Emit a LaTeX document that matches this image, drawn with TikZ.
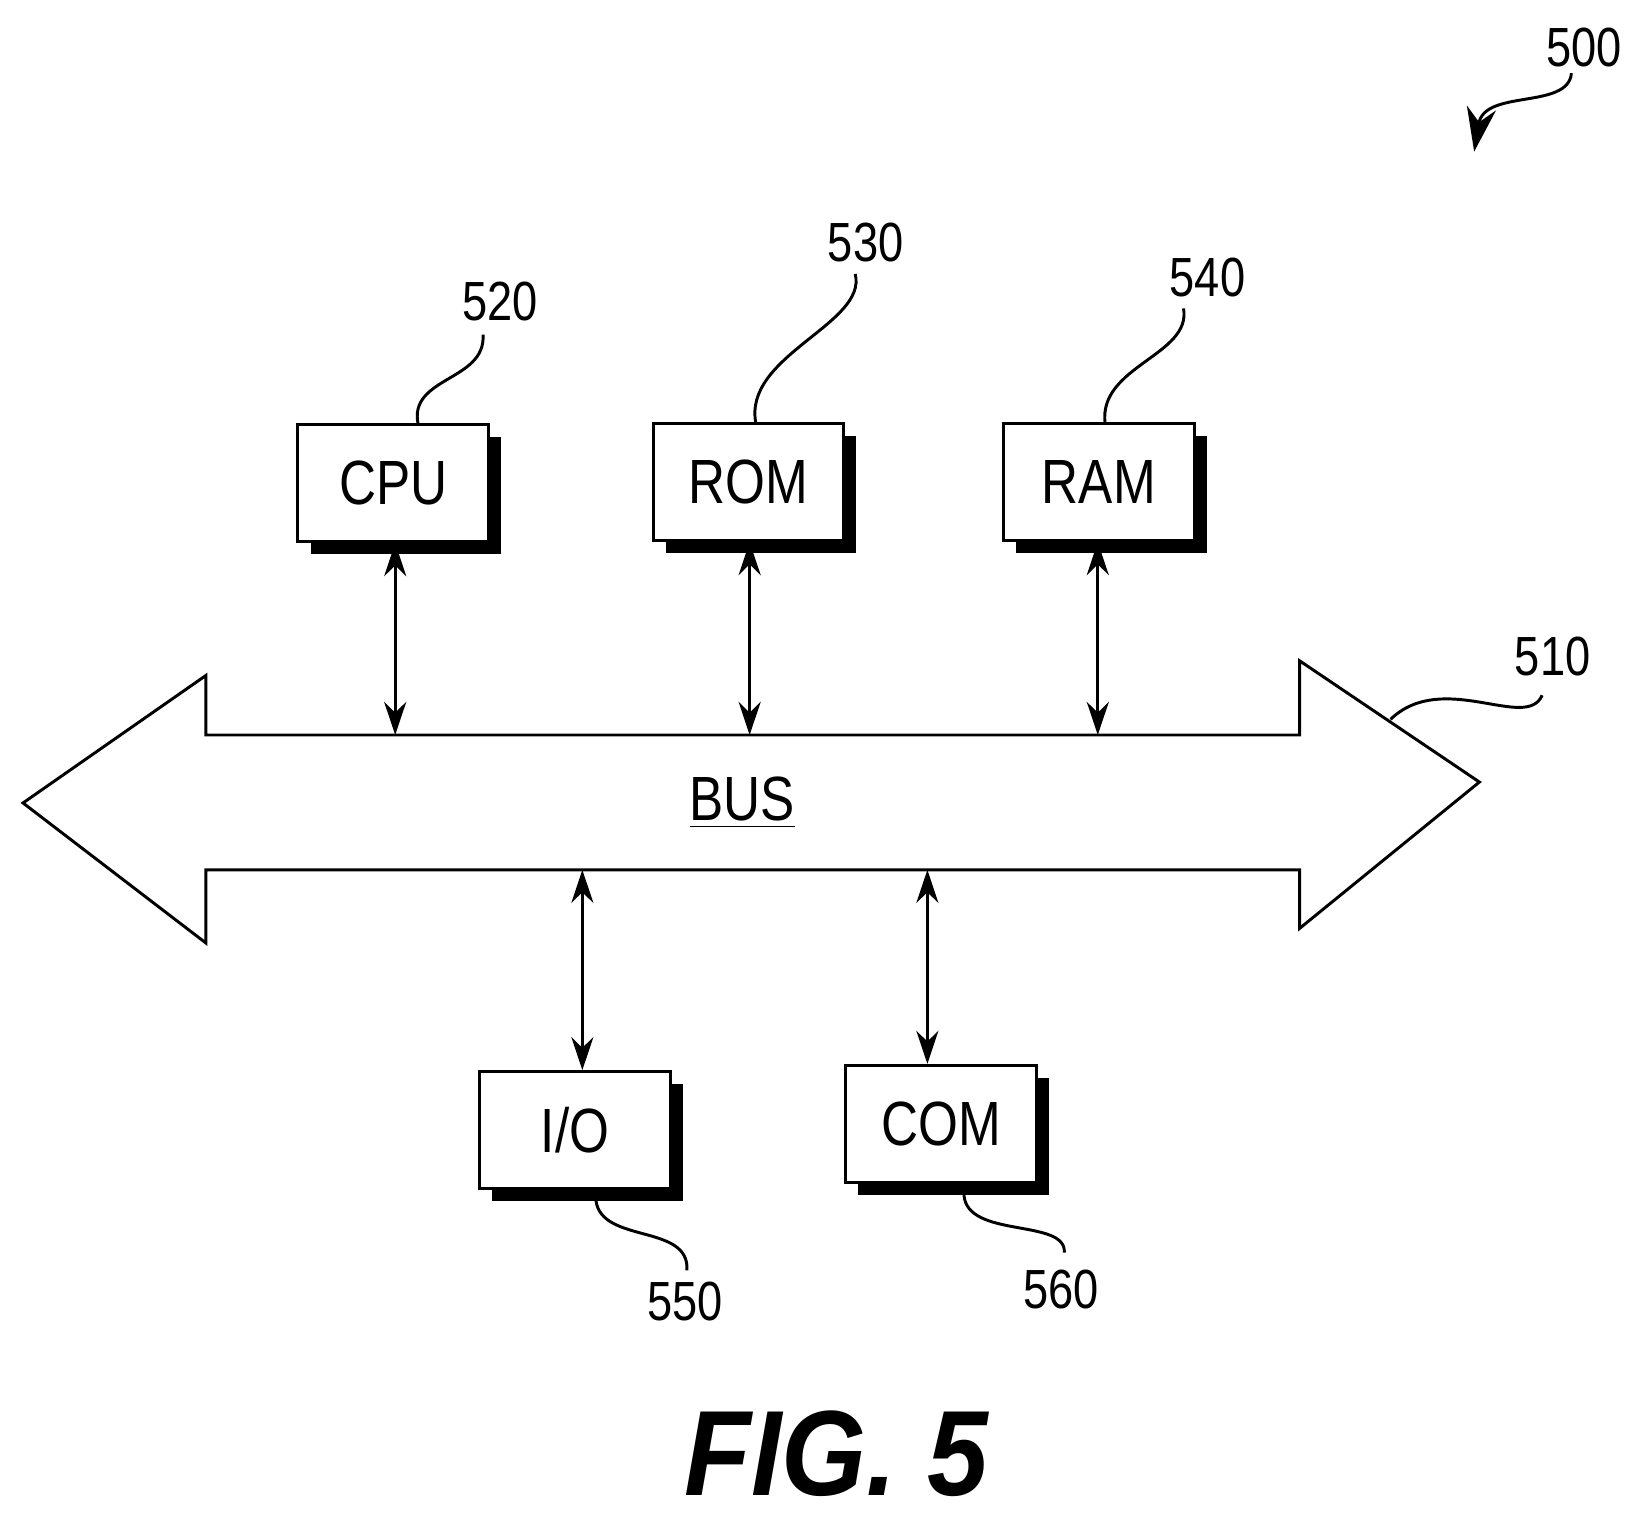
\documentclass[tikz,border=0pt]{standalone}
\usepackage{fontspec}
\setmainfont[FakeStretch=0.82]{Liberation Sans}
\newfontfamily\figfont[FakeStretch=0.9]{Liberation Sans}
\usetikzlibrary{arrows.meta}
\begin{document}
\begin{tikzpicture}[x=0.01cm,y=-0.01cm,
	unit/.style={draw,thick,fill=white,minimum width=1.82cm,minimum height=1.12cm,inner sep=0pt,font=\fontsize{17}{19}\selectfont},
	shadow/.style={fill=black},
	link/.style={{Stealth[length=9pt,width=6pt]}-{Stealth[length=9pt,width=6pt]},thick},
	refnum/.style={font=\fontsize{15}{17}\selectfont},
	leader/.style={thick}]
	\useasboundingbox (0,0) rectangle (1560,1457);

	% bus
	\draw[thick] (197,703) -- (1243,703) -- (1243,632) -- (1415,748) -- (1243,888)
		-- (1243,832) -- (197,832) -- (197,902) -- (22,768) -- (197,646) -- cycle;
	\node[font=\fontsize{17}{19}\selectfont] (bus) at (710,768) {\underline{BUS}};
	\coordinate (b1) at (378,703);
	\coordinate (b2) at (717,703);
	\coordinate (b3) at (1050,703);
	\coordinate (b4) at (557,832);
	\coordinate (b5) at (887,832);

	% units with shadows
	\foreach \x/\y in {376/462, 716/461, 1051/461, 550/1081, 900/1075}
		\fill[shadow] (\x+12-91,\y+12-56) rectangle (\x+12+91,\y+12+56);
	\node[unit] (cpu) at (376,462) {CPU};
	\node[unit] (rom) at (716,461) {ROM};
	\node[unit] (ram) at (1051,461) {RAM};
	\node[unit] (io) at (550,1081) {I/O};
	\node[unit] (com) at (900,1075) {COM};

	\draw[link] (cpu.south -| b1) -- (b1);
	\draw[link] (rom.south -| b2) -- (b2);
	\draw[link] (ram.south -| b3) -- (b3);
	\draw[link] (b4) -- (io.north -| b4);
	\draw[link] (b5) -- (com.north -| b5);

	% reference numerals
	\node[refnum] (n520) at (478,288) {520};
	\node[refnum] (n530) at (828,232) {530};
	\node[refnum] (n540) at (1155,265) {540};
	\node[refnum] (n510) at (1485,628) {510};
	\node[refnum] (n550) at (655,1245) {550};
	\node[refnum] (n560) at (1015,1233) {560};
	\node[refnum] (n500) at (1515,45) {500};

	\draw[leader] (400,406) .. controls (390,360) and (465,365) .. (462,320);
	\draw[leader] (723,405) .. controls (710,340) and (830,310) .. (818,262);
	\draw[leader] (1057,405) .. controls (1050,350) and (1140,340) .. (1132,295);
	\draw[leader] (1330,688) .. controls (1380,640) and (1460,700) .. (1475,665);
	\draw[leader] (570,1148) .. controls (575,1190) and (660,1170) .. (657,1215);
	\draw[leader] (922,1143) .. controls (925,1185) and (1020,1165) .. (1018,1198);
	\draw[leader,-{Stealth[length=12pt,width=8pt]}] (1503,70) .. controls (1500,105) and (1420,85) .. (1410,145);

	\node[font=\figfont\bfseries\itshape\fontsize{33}{36}\selectfont] (fig) at (800,1390) {FIG. 5};
\end{tikzpicture}
\end{document}
